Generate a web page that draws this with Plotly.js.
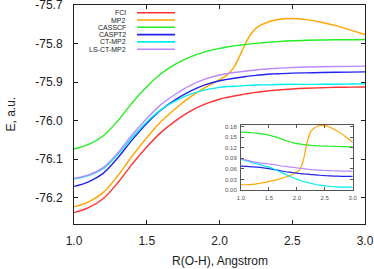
<!DOCTYPE html>
<html><head><meta charset="utf-8">
<script src="https://cdn.plot.ly/plotly-3.0.1.min.js"></script>
<style>html,body{margin:0;padding:0;background:#fff}#c{width:374px;height:269px}</style>
</head><body><div id="c"></div>
<script>
const R = [1.0,1.1,1.2,1.3,1.4,1.5,1.6,1.7,1.8,1.9,2.0,2.05,2.1,2.15,2.2,2.25,2.3,2.35,2.4,2.5,2.6,2.7,2.8,2.9,3.0];
const FCI = [-76.2385,-76.2255,-76.2025,-76.1615,-76.1125,-76.0680,-76.0295,-75.9995,-75.9750,-75.9570,-75.9442,-75.9395,-75.9356,-75.9325,-75.9291,-75.9262,-75.9239,-75.9218,-75.9200,-75.9174,-75.9156,-75.9143,-75.9132,-75.9127,-75.9122];
const MP2 = [-76.2235,-76.2105,-76.1865,-76.1435,-76.0915,-76.0440,-76.0015,-75.9675,-75.9380,-75.9140,-75.8932,-75.8815,-75.8606,-75.8225,-75.7841,-75.7602,-75.7489,-75.7418,-75.7370,-75.7344,-75.7376,-75.7443,-75.7532,-75.7647,-75.7762];
const CASSCF = [-76.0735,-76.0615,-76.0395,-76.0005,-75.9535,-75.9120,-75.8775,-75.8525,-75.8340,-75.8210,-75.8122,-75.8085,-75.8056,-75.8035,-75.8011,-75.7992,-75.7974,-75.7958,-75.7945,-75.7924,-75.7911,-75.7903,-75.7897,-75.7897,-75.7892];
const CASPT2 = [-76.1705,-76.1585,-76.1365,-76.0965,-76.0495,-76.0070,-75.9715,-75.9445,-75.9230,-75.9070,-75.8962,-75.8925,-75.8896,-75.8870,-75.8841,-75.8822,-75.8804,-75.8788,-75.8780,-75.8764,-75.8756,-75.8748,-75.8742,-75.8737,-75.8732];
const CTMP2 = [-76.1515,-76.1425,-76.1245,-76.0875,-76.0435,-76.0030,-75.9705,-75.9475,-75.9310,-75.9200,-75.9132,-75.9115,-75.9106,-75.9095,-75.9081,-75.9072,-75.9069,-75.9068,-75.9060,-75.9054,-75.9056,-75.9053,-75.9052,-75.9047,-75.9042];
const LSCTMP2 = [-76.1495,-76.1405,-76.1215,-76.0835,-76.0365,-75.9940,-75.9575,-75.9305,-75.9080,-75.8920,-75.8812,-75.8775,-75.8746,-75.8725,-75.8701,-75.8682,-75.8664,-75.8648,-75.8635,-75.8619,-75.8606,-75.8598,-75.8592,-75.8587,-75.8582];

const seriesNames = ["FCI","MP2","CASSCF","CASPT2","CT-MP2","LS-CT-MP2"];
const seriesData = [FCI, MP2, CASSCF, CASPT2, CTMP2, LSCTMP2];
const seriesColors = ["#ff3333","#ffa500","#22ee22","#2222ee","#00eeee","#bb88ff"];

const yTickVals = [-76.2,-76.1,-76.0,-75.9,-75.8,-75.7];
const yTickText = ["-76.2","-76.1","-76.0","-75.9","-75.8","-75.7"];
const xTickVals = [1.0,1.5,2.0,2.5,3.0];
const xTickText = ["1.0","1.5","2.0","2.5","3.0"];
const insetYTickVals = [0,0.03,0.06,0.09,0.12,0.15,0.18];
const insetYTickText = ["0.00","0.03","0.06","0.09","0.12","0.15","0.18"];
const xTitle = "R(O-H), Angstrom";
const yTitle = "E, a.u.";

const traces = [];
seriesData.forEach((d,i)=>{
  traces.push({x:R, y:d, type:'scatter', mode:'lines', name:seriesNames[i],
    line:{color:seriesColors[i], width:1.4, shape:'spline', smoothing:1},
    xaxis:'x', yaxis:'y', showlegend:false, hoverinfo:'skip'});
});
// inset: difference to FCI
[2,1,3,4,5].forEach(i=>{
  traces.push({x:R, y:seriesData[i].map((v,k)=>v-FCI[k]), type:'scatter', mode:'lines',
    line:{color:seriesColors[i], width:1.2, shape:'spline', smoothing:0.8},
    xaxis:'x2', yaxis:'y2', showlegend:false, hoverinfo:'skip'});
});

const L = 74, T = 5, W = 291, H = 219;
const px = p => (p - L)/W, py = p => (T + H - p)/H;
const font = 'Liberation Sans, Arial, sans-serif';
const annotations = [];
const shapes = [];
const rowY = [12.7,20.0,27.3,34.6,41.9,49.2];
seriesNames.forEach((n,i)=>{
  annotations.push({xref:'paper', yref:'paper', x:px(128), y:py(rowY[i]), text:n, showarrow:false,
    xanchor:'right', yanchor:'middle', font:{family:font, size:7, color:'#222'}});
  shapes.push({type:'line', xref:'paper', yref:'paper', x0:px(137), x1:px(175), y0:py(rowY[i]), y1:py(rowY[i]),
    line:{color:seriesColors[i], width:1.6}});
});
annotations.push({xref:'paper', yref:'paper', x:px(219.5), y:py(261), text:xTitle, showarrow:false,
  xanchor:'center', yanchor:'middle', font:{family:font, size:12, color:'#222'}});
annotations.push({xref:'paper', yref:'paper', x:px(10), y:py(114.5), text:yTitle, showarrow:false, textangle:-90,
  xanchor:'center', yanchor:'middle', font:{family:font, size:12, color:'#222'}});

const axisCommon = {showgrid:false, zeroline:false, showline:true, mirror:'ticks', linecolor:'#222', linewidth:1,
  ticks:'inside', ticklen:4, tickcolor:'#222', tickwidth:1, automargin:false, ticklabeloverflow:'allow'};

const layout = {
  width:374, height:269,
  margin:{l:L, r:374-L-W, t:T, b:269-T-H, pad:0},
  paper_bgcolor:'#fff', plot_bgcolor:'#fff',
  font:{family:font, color:'#222'},
  xaxis: Object.assign({}, axisCommon, {range:[1,3], tickvals:xTickVals, ticktext:xTickText,
    tickfont:{size:12}, ticklabelstandoff:6}),
  yaxis: Object.assign({}, axisCommon, {range:[-76.268,-75.6995], tickvals:yTickVals, ticktext:yTickText,
    tickfont:{size:12}, ticklabelstandoff:8}),
  xaxis2: Object.assign({}, axisCommon, {domain:[px(241), px(352.7)], anchor:'y2', range:[1,3],
    tickvals:xTickVals, ticktext:xTickText, ticklen:3, linecolor:'#555', tickcolor:'#555',
    tickfont:{size:6, color:'#555'}, ticklabelstandoff:2}),
  yaxis2: Object.assign({}, axisCommon, {domain:[py(190), py(125)], anchor:'x2', range:[0,0.185],
    tickvals:insetYTickVals, ticktext:insetYTickText, ticklen:3, linecolor:'#555', tickcolor:'#555',
    tickfont:{size:6, color:'#555'}, ticklabelstandoff:2}),
  annotations, shapes
};

Plotly.newPlot('c', traces, layout, {displayModeBar:false, staticPlot:true});
</script></body></html>
